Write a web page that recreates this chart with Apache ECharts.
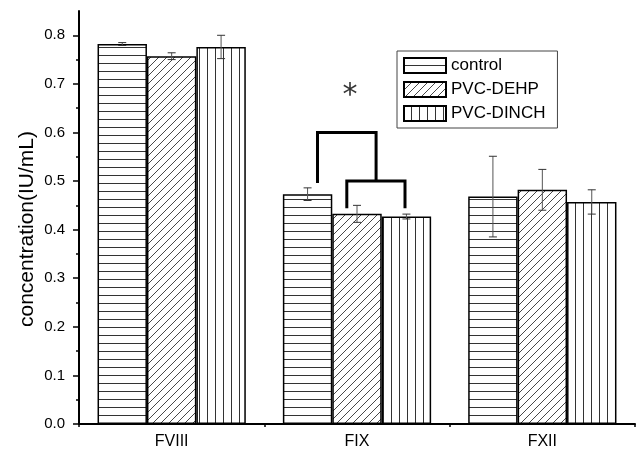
<!DOCTYPE html>
<html><head><meta charset="utf-8">
<script src="https://cdn.jsdelivr.net/npm/echarts@6/dist/echarts.min.js"></script>
<style>html,body{margin:0;padding:0;background:#fff}#c{width:640px;height:459px}</style>
</head><body><div id="c"></div>
<script>
// ---- data ----
const categories = ['FVIII', 'FIX', 'FXII'];
const seriesNames = ['control', 'PVC-DEHP', 'PVC-DINCH'];
const controlMean = [0.782, 0.473, 0.468];
const controlErr  = [0.003, 0.013, 0.083];
const dehpMean    = [0.757, 0.4325, 0.482];
const dehpErr     = [0.007, 0.0175, 0.042];
const dinchMean   = [0.776, 0.427, 0.457];
const dinchErr    = [0.024, 0.005, 0.025];
const yTicks = [0, 0.1, 0.2, 0.3, 0.4, 0.5, 0.6, 0.7, 0.8];
const yMax = 0.85;
const yTitle = 'concentration(IU/mL)';
// significance brackets (x in category units, 1 = FVIII ... ; y in IU/mL)
const bracketA = [[1.787, 0.496], [1.787, 0.600], [2.103, 0.600], [2.103, 0.500]];
const bracketB = [[1.945, 0.444], [1.945, 0.500], [2.259, 0.500], [2.259, 0.444]];
const starPoint = [1.962, 0.675];
const starText = '*';

const means = [controlMean, dehpMean, dinchMean];
const errs = [controlErr, dehpErr, dinchErr];
const FONT = 'Liberation Sans, Arial, sans-serif';
const catGap = 0.2;
const barFrac = (1 - catGap) / 3;

function makePattern(kind) {
  const c = document.createElement('canvas');
  c.width = 8; c.height = 8;
  const g = c.getContext('2d');
  g.fillStyle = '#fff'; g.fillRect(0, 0, 8, 8);
  g.fillStyle = '#333';
  if (kind === 'h') g.fillRect(0, 7, 8, 1);
  if (kind === 'v') g.fillRect(7, 0, 1, 8);
  if (kind === 'd') {
    g.strokeStyle = '#333'; g.lineWidth = 0.9;
    g.beginPath();
    g.moveTo(-2, 2); g.lineTo(2, -2);
    g.moveTo(-2, 10); g.lineTo(10, -2);
    g.moveTo(6, 10); g.lineTo(10, 6);
    g.stroke();
  }
  return { image: c, repeat: 'repeat' };
}
const patterns = [makePattern('h'), makePattern('d'), makePattern('v')];

const minorTicks = [];
for (let i = 0; i < yTicks.length - 1; i++) minorTicks.push((yTicks[i] + yTicks[i + 1]) / 2);
const boundaries = [];
for (let i = 0; i <= categories.length; i++) boundaries.push(i + 0.5);

const series = [];
seriesNames.forEach((name, s) => {
  series.push({
    name, type: 'bar', xAxisIndex: 0, yAxisIndex: 0,
    data: means[s], barGap: '0%', barCategoryGap: (catGap * 100) + '%',
    itemStyle: { color: patterns[s], borderColor: '#000', borderWidth: 1.5 },
    emphasis: { disabled: true }
  });
});
seriesNames.forEach((name, s) => {
  const d = means[s].map((m, i) => [i + 1 + (s - 1) * barFrac, m - errs[s][i], m + errs[s][i]]);
  series.push({
    type: 'custom', xAxisIndex: 1, yAxisIndex: 0, silent: true, z: 5,
    data: d,
    renderItem: function (params, api) {
      const x = api.value(0);
      const lo = api.coord([x, api.value(1)]);
      const hi = api.coord([x, api.value(2)]);
      const w = 4;
      return {
        type: 'group', children: [
          { type: 'line', shape: { x1: lo[0], y1: lo[1], x2: hi[0], y2: hi[1] }, style: { stroke: '#555', lineWidth: 1 } },
          { type: 'line', shape: { x1: lo[0] - w, y1: lo[1], x2: lo[0] + w, y2: lo[1] }, style: { stroke: '#333', lineWidth: 1 } },
          { type: 'line', shape: { x1: hi[0] - w, y1: hi[1], x2: hi[0] + w, y2: hi[1] }, style: { stroke: '#333', lineWidth: 1 } }
        ]
      };
    }
  });
});
[bracketA, bracketB].forEach(b => {
  series.push({
    type: 'line', xAxisIndex: 1, yAxisIndex: 0, data: b, symbol: 'none', silent: true, z: 6,
    lineStyle: { color: '#000', width: 3, join: 'miter', cap: 'butt' }
  });
});
series.push({
  type: 'scatter', xAxisIndex: 1, yAxisIndex: 0, data: [starPoint], symbolSize: 1, silent: true,
  itemStyle: { color: 'rgba(0,0,0,0)' },
  label: { show: true, position: 'inside', formatter: starText, fontSize: 30, color: '#000', fontFamily: 'DejaVu Sans' }
});

const chart = echarts.init(document.getElementById('c'), null, { renderer: 'canvas' });
chart.setOption({
  animation: false,
  backgroundColor: '#fff',
  grid: { left: 79, right: 5, top: 11, bottom: 35 },
  legend: {
    data: seriesNames, orient: 'vertical', left: 397, top: 51,
    icon: 'rect', itemWidth: 42, itemHeight: 15, itemGap: 7,
    borderColor: '#444', borderWidth: 1, padding: [6, 12, 6, 6],
    textStyle: { fontSize: 17, color: '#000', fontFamily: FONT }
  },
  xAxis: [
    {
      type: 'category', data: categories, boundaryGap: true,
      axisLine: { lineStyle: { color: '#000', width: 2 } },
      axisTick: { alignWithLabel: true, length: 5, lineStyle: { color: '#000', width: 1.5 } },
      axisLabel: { fontSize: 16, color: '#000', fontFamily: FONT, margin: 10 },
      splitLine: { show: false }
    },
    {
      type: 'value', min: 0.5, max: 3.5, position: 'bottom',
      axisLine: { show: false },
      axisTick: { show: true, customValues: boundaries, length: 3, lineStyle: { color: '#000', width: 1.5 } },
      axisLabel: { show: false }, splitLine: { show: false }
    }
  ],
  yAxis: [
    {
      type: 'value', min: 0, max: yMax,
      axisLine: { show: true, lineStyle: { color: '#000', width: 2 } },
      axisTick: { show: true, customValues: yTicks, length: 6, lineStyle: { color: '#000', width: 1.5 } },
      axisLabel: { customValues: yTicks, formatter: v => v.toFixed(1), fontSize: 15, color: '#000', fontFamily: FONT, margin: 14 },
      splitLine: { show: false }
    },
    {
      type: 'value', min: 0, max: yMax, position: 'left',
      axisLine: { show: false },
      axisTick: { show: true, customValues: minorTicks, length: 3, lineStyle: { color: '#000', width: 1.5 } },
      axisLabel: { show: false }, splitLine: { show: false }
    }
  ],
  graphic: [{
    type: 'text', x: 27, y: 229, rotation: Math.PI / 2,
    style: { text: yTitle, fontSize: 21, fontFamily: FONT, fill: '#000', textAlign: 'center', textVerticalAlign: 'middle', verticalAlign: 'middle' }
  }],
  series
});
</script></body></html>
